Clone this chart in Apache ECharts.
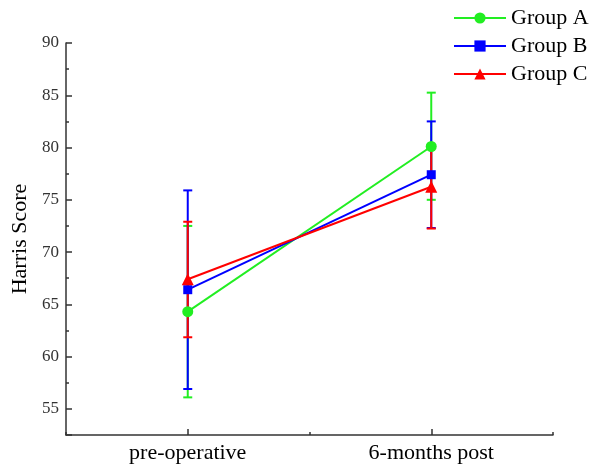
<!DOCTYPE html>
<html>
<head>
<meta charset="utf-8">
<script src="https://cdn.jsdelivr.net/npm/echarts@6/dist/echarts.min.js"></script>
<style>html,body{margin:0;padding:0;background:#fff}#c{width:594px;height:465px}</style>
</head>
<body>
<div id="c"></div>
<script>
const categories = ['pre-operative', '6-months post'];
const groupNames = ['Group A', 'Group B', 'Group C'];
const meanA = [64.3, 80.1];
const lowA = [56.1, 75.0];
const highA = [72.5, 85.25];
const meanB = [66.4, 77.4];
const lowB = [56.9, 72.3];
const highB = [75.9, 82.5];
const meanC = [67.4, 76.25];
const lowC = [61.85, 72.25];
const highC = [72.9, 80.2];
const yTicksMajor = [55, 60, 65, 70, 75, 80, 85, 90];

const colors = ['#22ee22', '#0000ff', '#ff0000'];
const symbols = ['circle', 'rect', 'triangle'];
const symbolSizes = [11, 9, 12];
const means = [meanA, meanB, meanC];
const lows = [lowA, lowB, lowC];
const highs = [highA, highB, highC];

const font = 'Liberation Serif, Times New Roman, serif';
const chart = echarts.init(document.getElementById('c'));

const series = [];
for (let g = 0; g < 3; g++) {
  series.push({
    name: groupNames[g],
    type: 'line',
    xAxisIndex: 0, yAxisIndex: 0,
    z: 10 + g,
    data: means[g],
    symbol: symbols[g],
    symbolSize: symbolSizes[g],
    lineStyle: { color: colors[g], width: 2 },
    itemStyle: { color: colors[g] },
    emphasis: { disabled: true },
    animation: false
  });
}
for (let g = 0; g < 3; g++) {
  series.push({
    name: groupNames[g],
    type: 'custom',
    xAxisIndex: 0, yAxisIndex: 0,
    z: 2 + g,
    data: categories.map((c, i) => [i, lows[g][i], highs[g][i]]),
    renderItem: function (params, api) {
      const x = api.value(0);
      const lo = api.coord([x, api.value(1)]);
      const hi = api.coord([x, api.value(2)]);
      const hw = 4.5;
      const style = { stroke: colors[g], lineWidth: 2 };
      return {
        type: 'group',
        children: [
          { type: 'line', shape: { x1: lo[0], y1: lo[1], x2: hi[0], y2: hi[1] }, style: style },
          { type: 'line', shape: { x1: lo[0] - hw, y1: lo[1], x2: lo[0] + hw, y2: lo[1] }, style: style },
          { type: 'line', shape: { x1: hi[0] - hw, y1: hi[1], x2: hi[0] + hw, y2: hi[1] }, style: style }
        ]
      };
    }
  });
}

chart.setOption({
  animation: false,
  color: colors,
  grid: { left: 66, right: 41, top: 43, bottom: 30 },
  legend: {
    data: groupNames,
    orient: 'vertical',
    left: 453,
    top: 7,
    padding: 0,
    itemWidth: 52,
    itemHeight: 14,
    itemGap: 6,
    textStyle: { fontFamily: font, fontSize: 22, color: '#000' }
  },
  xAxis: [
    {
      type: 'category',
      data: categories,
      boundaryGap: true,
      axisLine: { lineStyle: { color: '#333', width: 1.5 } },
      axisTick: { show: true, inside: true, length: 6, alignWithLabel: true, lineStyle: { color: '#333', width: 1.5 } },
      axisLabel: { fontFamily: font, fontSize: 22, color: '#000', margin: 7 },
      splitLine: { show: false }
    },
    {
      type: 'category',
      data: categories,
      position: 'bottom',
      boundaryGap: true,
      axisLine: { show: false },
      axisTick: { show: true, inside: true, length: 3, lineStyle: { color: '#333', width: 1.5 } },
      axisLabel: { show: false },
      splitLine: { show: false }
    }
  ],
  yAxis: [
    {
      type: 'value',
      min: 52.5,
      max: 90,
      splitNumber: 7,
      name: 'Harris Score',
      nameLocation: 'middle',
      nameGap: 29,
      nameTextStyle: { fontFamily: font, fontSize: 22, color: '#000' },
      axisLine: { show: true, lineStyle: { color: '#333', width: 1.5 } },
      axisTick: { show: true, inside: true, length: 6, lineStyle: { color: '#333', width: 1.5 } },
      axisLabel: {
        fontFamily: font, fontSize: 17, color: '#333', margin: 7,
        formatter: v => (yTicksMajor.indexOf(v) >= 0 ? String(v) : '')
      },
      splitLine: { show: false }
    },
    {
      type: 'value',
      min: 52.5,
      max: 90,
      interval: 2.5,
      position: 'left',
      axisLine: { show: false },
      axisTick: { show: true, inside: true, length: 3, lineStyle: { color: '#333', width: 1.5 } },
      axisLabel: { show: false },
      splitLine: { show: false }
    }
  ],
  series: series
});
</script>
</body>
</html>
